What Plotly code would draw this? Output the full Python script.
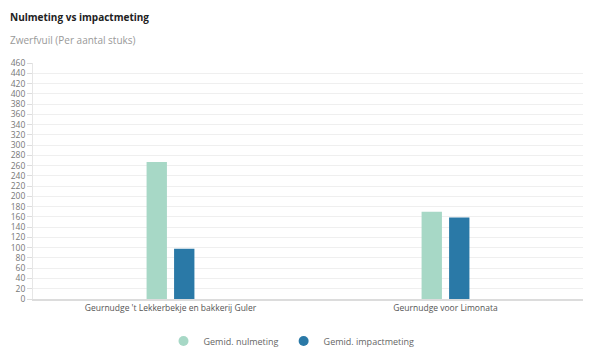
import plotly.graph_objects as go

categories = ["Geurnudge 't Lekkerbekje en bakkerij Guler", "Geurnudge voor Limonata"]
nulmeting = [267, 170]
impactmeting = [98, 159]
series_names = ["Gemid. nulmeting", "Gemid. impactmeting"]
colors = ["#a7d8c6", "#2a79a7"]

fig = go.Figure()
for name, vals, c in zip(series_names, [nulmeting, impactmeting], colors):
    fig.add_trace(go.Bar(x=categories, y=vals, name=name, showlegend=False,
                         marker=dict(color=c, line=dict(width=0))))
# legend entries with circular symbols
for name, c in zip(series_names, colors):
    fig.add_trace(go.Scatter(x=[None], y=[None], mode="markers", name=name,
                             marker=dict(color=c, size=10, symbol="circle")))

fig.update_layout(
    width=602, height=353,
    margin=dict(l=33, r=19, t=63, b=54, autoexpand=False),
    paper_bgcolor="white", plot_bgcolor="white",
    barmode="group", bargap=0.80, bargroupgap=0.26,
    font=dict(family="Open Sans", color="#666", size=9),
    showlegend=True,
    legend=dict(orientation="h", x=0.47, xanchor="center", yref="container", y=0.075,
                yanchor="top", font=dict(size=9, color="#666"), itemwidth=30,
                traceorder="normal", tracegroupgap=0),
    annotations=[
        dict(text="<b>Nulmeting vs impactmeting</b>", x=8, y=17, xref="paper", yref="paper",
             xanchor="left", yanchor="middle", showarrow=False,
             font=dict(size=10, color="#222", family="Open Sans")),
        dict(text="Zwerfvuil (Per aantal stuks)", x=8, y=40, xref="paper", yref="paper",
             xanchor="left", yanchor="middle", showarrow=False,
             font=dict(size=10, color="#999", family="Open Sans")),
    ],
)
pw = 602 - 33 - 19
ph = 353 - 63 - 54
for a in fig.layout.annotations:
    a.x = (a.x - 33) / pw
    a.y = (353 - 54 - a.y) / ph

fig.update_yaxes(range=[0, 460], dtick=20, showgrid=True, gridcolor="#efefef", gridwidth=1,
                 zeroline=False, showline=True, linecolor="#e6e6e6", linewidth=1,
                 ticks="outside", ticklen=5, tickcolor="#dddddd", automargin=False,
                 tickfont=dict(size=8.5, color="#777"))
fig.update_xaxes(showline=True, linecolor="#dcdcdc", linewidth=2, showgrid=False,
                 automargin=False, tickfont=dict(size=8.5, color="#555"), ticks="")

fig.write_html("out.html")
